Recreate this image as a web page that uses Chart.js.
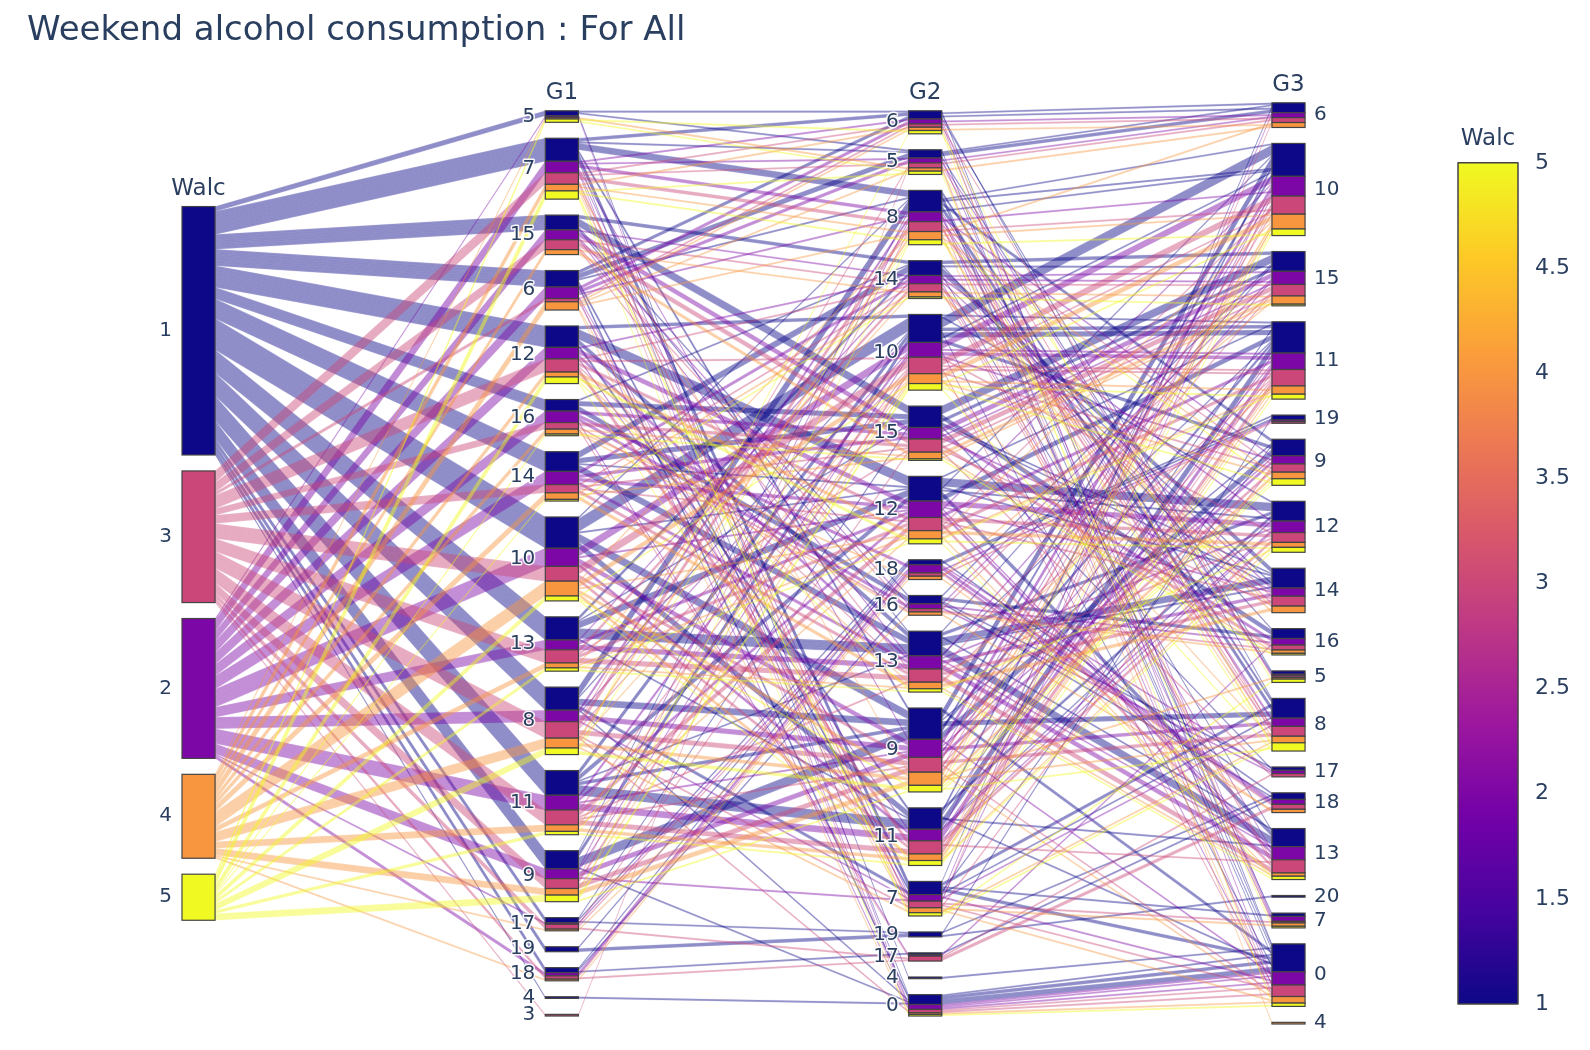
<!DOCTYPE html>
<html>
<head>
<meta charset="utf-8">
<title>Weekend alcohol consumption : For All</title>
<script src="https://cdn.jsdelivr.net/npm/chart.js@4.4.1/dist/chart.umd.min.js"></script>
<style>
  html, body { margin: 0; padding: 0; background: #fff; }
  canvas { display: block; }
</style>
</head>
<body>
<canvas id="parcatsChart" width="1590" height="1050"></canvas>
<script>
// dimensions left to right, categories in the order they are stacked
const dimNames = ['Walc', 'G1', 'G2', 'G3'];
const walcCats = [1, 3, 2, 4, 5];
const g1Cats = [5, 7, 15, 6, 12, 16, 14, 10, 13, 8, 11, 9, 17, 19, 18, 4, 3];
const g2Cats = [6, 5, 8, 14, 10, 15, 12, 18, 16, 13, 9, 11, 7, 19, 17, 4, 0];
const g3Cats = [6, 10, 15, 11, 19, 9, 12, 14, 16, 5, 8, 17, 18, 13, 20, 7, 0, 4];
const cbTicks = [1, 1.5, 2, 2.5, 3, 3.5, 4, 4.5, 5];

// each row: G1, G2, G3, then number of students with Walc = 1, 2, 3, 4, 5
const gradePaths = [
    [4, 0, 0, 1, 0, 0, 0, 0],
    [5, 0, 0, 0, 1, 0, 0, 0],
    [6, 0, 0, 2, 1, 0, 1, 0],
    [7, 0, 0, 1, 1, 1, 0, 1],
    [8, 0, 0, 1, 0, 1, 0, 0],
    [9, 0, 0, 1, 0, 0, 0, 0],
    [5, 4, 0, 1, 0, 0, 0, 0],
    [3, 5, 0, 0, 0, 1, 0, 0],
    [5, 5, 0, 1, 0, 0, 0, 0],
    [5, 5, 4, 0, 0, 0, 1, 0],
    [5, 5, 5, 0, 0, 0, 0, 1],
    [6, 5, 5, 1, 1, 0, 0, 0],
    [6, 5, 6, 2, 1, 0, 1, 0],
    [7, 5, 6, 1, 0, 1, 0, 0],
    [7, 5, 7, 0, 1, 0, 0, 1],
    [8, 5, 8, 0, 0, 1, 0, 0],
    [5, 6, 0, 1, 0, 0, 0, 1],
    [6, 6, 0, 0, 1, 0, 0, 0],
    [6, 6, 5, 1, 0, 1, 0, 0],
    [6, 6, 6, 1, 1, 0, 1, 0],
    [7, 6, 6, 1, 0, 1, 0, 0],
    [7, 6, 7, 0, 1, 0, 1, 0],
    [7, 6, 8, 1, 0, 0, 0, 0],
    [8, 6, 8, 0, 0, 0, 0, 1],
    [6, 7, 0, 2, 1, 1, 1, 0],
    [7, 7, 5, 0, 0, 0, 0, 1],
    [7, 7, 6, 1, 1, 1, 0, 0],
    [7, 7, 7, 1, 0, 1, 1, 0],
    [7, 7, 8, 2, 0, 0, 0, 1],
    [8, 7, 8, 1, 1, 0, 1, 0],
    [8, 7, 9, 1, 0, 1, 0, 0],
    [9, 7, 10, 0, 1, 0, 0, 0],
    [6, 8, 0, 1, 1, 0, 1, 0],
    [7, 8, 0, 1, 0, 1, 0, 0],
    [7, 8, 6, 0, 0, 0, 1, 0],
    [7, 8, 7, 1, 1, 0, 0, 0],
    [7, 8, 8, 2, 1, 1, 0, 1],
    [8, 8, 8, 3, 1, 2, 1, 0],
    [8, 8, 9, 2, 1, 1, 1, 1],
    [8, 8, 10, 1, 0, 0, 0, 0],
    [9, 8, 10, 1, 1, 1, 0, 1],
    [10, 8, 10, 1, 0, 0, 1, 0],
    [7, 9, 0, 2, 1, 0, 1, 0],
    [8, 9, 0, 0, 0, 1, 0, 0],
    [8, 9, 5, 0, 0, 0, 1, 0],
    [8, 9, 8, 3, 2, 2, 1, 1],
    [8, 9, 9, 1, 1, 0, 0, 1],
    [9, 9, 9, 4, 2, 2, 2, 1],
    [9, 9, 10, 2, 1, 1, 1, 0],
    [10, 9, 10, 5, 3, 2, 2, 1],
    [11, 9, 11, 2, 1, 1, 0, 0],
    [8, 10, 0, 1, 1, 1, 0, 0],
    [8, 10, 8, 0, 0, 0, 1, 0],
    [9, 10, 8, 0, 0, 0, 0, 1],
    [9, 10, 9, 2, 1, 1, 1, 1],
    [9, 10, 10, 1, 0, 1, 0, 0],
    [10, 10, 10, 6, 4, 4, 3, 1],
    [10, 10, 11, 2, 1, 1, 0, 0],
    [11, 10, 11, 3, 2, 1, 1, 1],
    [12, 10, 11, 1, 0, 0, 0, 0],
    [12, 10, 12, 1, 0, 1, 0, 0],
    [10, 11, 0, 1, 0, 0, 0, 0],
    [10, 11, 10, 2, 1, 1, 1, 1],
    [10, 11, 11, 1, 1, 1, 1, 0],
    [11, 11, 11, 5, 3, 3, 1, 1],
    [11, 11, 12, 1, 1, 0, 1, 0],
    [12, 11, 12, 2, 1, 2, 0, 1],
    [12, 11, 13, 0, 0, 1, 0, 0],
    [13, 11, 13, 1, 0, 0, 0, 0],
    [10, 12, 10, 1, 1, 0, 1, 0],
    [11, 12, 10, 0, 0, 1, 0, 0],
    [11, 12, 11, 3, 2, 2, 1, 0],
    [12, 12, 11, 1, 0, 0, 0, 1],
    [12, 12, 12, 5, 3, 2, 2, 1],
    [13, 12, 12, 1, 0, 0, 0, 0],
    [13, 12, 13, 3, 2, 2, 1, 1],
    [14, 12, 13, 0, 1, 0, 0, 0],
    [14, 12, 14, 1, 1, 1, 0, 0],
    [11, 13, 11, 1, 0, 1, 0, 0],
    [12, 13, 11, 0, 0, 0, 1, 0],
    [12, 13, 12, 2, 1, 1, 0, 1],
    [12, 13, 13, 1, 1, 0, 0, 0],
    [13, 13, 13, 5, 3, 3, 1, 1],
    [13, 13, 14, 1, 0, 0, 0, 0],
    [14, 13, 14, 4, 2, 2, 2, 0],
    [15, 13, 15, 1, 1, 1, 0, 0],
    [12, 14, 12, 0, 1, 0, 0, 0],
    [12, 14, 13, 0, 0, 1, 0, 0],
    [13, 14, 13, 1, 1, 1, 0, 0],
    [13, 14, 14, 1, 0, 1, 1, 0],
    [14, 14, 14, 3, 1, 1, 1, 0],
    [14, 14, 15, 1, 1, 0, 0, 1],
    [15, 14, 15, 2, 1, 1, 1, 0],
    [16, 14, 16, 1, 0, 0, 0, 0],
    [13, 15, 14, 1, 0, 1, 0, 0],
    [14, 15, 14, 1, 1, 0, 0, 0],
    [14, 15, 15, 2, 1, 1, 1, 0],
    [15, 15, 15, 5, 3, 3, 2, 0],
    [16, 15, 16, 3, 2, 2, 1, 1],
    [17, 15, 17, 1, 0, 1, 0, 0],
    [15, 16, 15, 1, 1, 1, 0, 0],
    [16, 16, 16, 2, 1, 1, 1, 0],
    [16, 16, 17, 1, 1, 0, 0, 0],
    [17, 16, 18, 0, 0, 0, 1, 0],
    [18, 16, 18, 1, 0, 0, 0, 0],
    [16, 17, 16, 0, 1, 0, 0, 0],
    [16, 17, 17, 0, 0, 1, 0, 0],
    [17, 17, 18, 0, 0, 1, 0, 0],
    [18, 17, 18, 1, 0, 1, 0, 0],
    [16, 18, 15, 0, 0, 0, 1, 0],
    [16, 18, 17, 0, 1, 0, 0, 0],
    [16, 18, 18, 0, 1, 0, 0, 0],
    [17, 18, 18, 1, 1, 1, 0, 0],
    [18, 18, 18, 0, 1, 0, 1, 0],
    [18, 18, 19, 1, 1, 1, 0, 0],
    [19, 18, 19, 1, 0, 0, 0, 0],
    [17, 19, 18, 1, 0, 0, 0, 0],
    [19, 19, 19, 1, 0, 0, 0, 0],
    [19, 19, 20, 1, 0, 0, 0, 0]
];

// plotly "Plasma"
const PLASMA = ['#0d0887', '#46039f', '#7201a8', '#9c179e', '#bd3786',
                '#d8576b', '#ed7953', '#fb9f3a', '#fdca26', '#f0f921'];
const FONT = '"DejaVu Sans", Verdana, sans-serif';
const TEXT = '#2a3f5f';
const CAT_GAP = 9.7;   // space between categories, in students
const BAR_W = 0.091;   // bar width, in x units

function hexToRgb(h) {
    const n = parseInt(h.slice(1), 16);
    return [(n >> 16) & 255, (n >> 8) & 255, n & 255];
}

function plasma(t) {
    const s = t * (PLASMA.length - 1);
    const i = Math.min(Math.floor(s), PLASMA.length - 2);
    const f = s - i;
    const a = hexToRgb(PLASMA[i]), b = hexToRgb(PLASMA[i + 1]);
    return a.map((v, k) => Math.round(v + (b[k] - v) * f));
}

function walcColor(w, alpha) {
    const c = plasma((w - 1) / 4);
    return 'rgba(' + c[0] + ',' + c[1] + ',' + c[2] + ',' + alpha + ')';
}

function comparePaths(a, b) {
    if (a.walc !== b.walc) return a.walc - b.walc;
    for (let d = 0; d < a.idx.length; d++) {
        if (a.idx[d] !== b.idx[d]) return a.idx[d] - b.idx[d];
    }
    return 0;
}

const dimCats = [walcCats, g1Cats, g2Cats, g3Cats];
const maxCats = Math.max(...dimCats.map(c => c.length));
const total = gradePaths.reduce((s, r) => s + r.slice(3).reduce((a, b) => a + b, 0), 0);
const yMax = total + CAT_GAP * (maxCats - 1);

// one path per (Walc, G1, G2, G3) combination
const paths = [];
gradePaths.forEach(r => {
    for (let k = 0; k < 5; k++) {
        if (r[3 + k] > 0) {
            const vals = [k + 1, r[0], r[1], r[2]];
            paths.push({
                walc: k + 1,
                idx: vals.map((v, d) => dimCats[d].indexOf(v)),
                n: r[3 + k],
                y: []
            });
        }
    }
});

// category boxes, and where each path crosses them
const catBoxes = dimCats.map((cats, d) => {
    let y = (maxCats - cats.length) * CAT_GAP / 2;
    return cats.map((c, i) => {
        const members = paths.filter(p => p.idx[d] === i).sort(comparePaths);
        const top = y;
        members.forEach(p => { p.y[d] = y; y += p.n; });
        const box = { label: String(c), top: top, bottom: y, members: members };
        y += CAT_GAP;
        return box;
    });
});

function haloText(ctx, text, x, y) {
    ctx.lineWidth = 3;
    ctx.lineJoin = 'round';
    ctx.strokeStyle = 'rgba(255,255,255,0.9)';
    ctx.strokeText(text, x, y);
    ctx.fillText(text, x, y);
}

const parcatsPlugin = {
    id: 'parcats',
    afterDraw(chart) {
        const { ctx, chartArea, scales: { x, y, cb } } = chart;
        ctx.save();

        // ribbons, one strip per student
        const order = paths.slice().sort((a, b) => a.walc - b.walc);
        order.forEach(p => {
            ctx.fillStyle = walcColor(p.walc, 0.42);
            ctx.strokeStyle = walcColor(p.walc, 0.16);
            ctx.lineWidth = 0.5;
            for (let d = 0; d < dimNames.length - 1; d++) {
                const x0 = x.getPixelForValue(d + BAR_W);
                const x1 = x.getPixelForValue(d + 1);
                for (let k = 0; k < p.n; k++) {
                    ctx.beginPath();
                    ctx.moveTo(x0, y.getPixelForValue(p.y[d] + k));
                    ctx.lineTo(x1, y.getPixelForValue(p.y[d + 1] + k));
                    ctx.lineTo(x1, y.getPixelForValue(p.y[d + 1] + k + 1));
                    ctx.lineTo(x0, y.getPixelForValue(p.y[d] + k + 1));
                    ctx.closePath();
                    ctx.fill();
                    ctx.stroke();
                }
            }
        });

        // category bars with colour bands
        catBoxes.forEach((boxes, d) => {
            const xl = x.getPixelForValue(d);
            const xr = x.getPixelForValue(d + BAR_W);
            boxes.forEach(box => {
                const bands = [];
                box.members.forEach(p => {
                    const last = bands[bands.length - 1];
                    if (last && last.walc === p.walc) last.n += p.n;
                    else bands.push({ walc: p.walc, start: p.y[d], n: p.n });
                });
                ctx.lineWidth = 1.2;
                ctx.strokeStyle = '#444';
                bands.forEach(b => {
                    const t = y.getPixelForValue(b.start);
                    const h = y.getPixelForValue(b.start + b.n) - t;
                    ctx.fillStyle = walcColor(b.walc, 1);
                    ctx.fillRect(xl, t, xr - xl, h);
                    ctx.strokeRect(xl, t, xr - xl, h);
                });
            });
        });

        // category labels and dimension titles
        ctx.fillStyle = TEXT;
        catBoxes.forEach((boxes, d) => {
            const last = d === dimNames.length - 1;
            const xl = x.getPixelForValue(d);
            const xr = x.getPixelForValue(d + BAR_W);
            ctx.font = '20px ' + FONT;
            ctx.textBaseline = 'middle';
            ctx.textAlign = last ? 'left' : 'right';
            boxes.forEach(box => {
                const yc = y.getPixelForValue((box.top + box.bottom) / 2);
                haloText(ctx, box.label, last ? xr + 9 : xl - 10, yc);
            });
            ctx.font = '23px ' + FONT;
            ctx.textAlign = 'center';
            haloText(ctx, dimNames[d], (xl + xr) / 2, y.getPixelForValue(boxes[0].top) - 18);
        });

        // colour bar
        const cTop = cb.getPixelForValue(5);
        const cBot = cb.getPixelForValue(1);
        const cR = chartArea.right;
        const cL = cR - 60;
        const grad = ctx.createLinearGradient(0, cBot, 0, cTop);
        PLASMA.forEach((c, i) => grad.addColorStop(i / (PLASMA.length - 1), c));
        ctx.fillStyle = grad;
        ctx.fillRect(cL, cTop, cR - cL, cBot - cTop);
        ctx.lineWidth = 1.5;
        ctx.strokeStyle = '#444';
        ctx.strokeRect(cL, cTop, cR - cL, cBot - cTop);
        ctx.fillStyle = TEXT;
        ctx.font = '23px ' + FONT;
        ctx.textAlign = 'center';
        ctx.textBaseline = 'middle';
        ctx.fillText('Walc', (cL + cR) / 2, cTop - 24);

        ctx.restore();
    }
};

const ctxParcats = document.getElementById('parcatsChart').getContext('2d');
const parcatsChart = new Chart(ctxParcats, {
    type: 'scatter',
    data: { datasets: [] },
    options: {
        responsive: false,
        animation: false,
        devicePixelRatio: 1,
        layout: { padding: { left: 27, right: 0, top: 0, bottom: 26 } },
        plugins: {
            legend: { display: false },
            tooltip: { enabled: false },
            title: {
                display: true,
                text: 'Weekend alcohol consumption : For All',
                align: 'start',
                color: TEXT,
                font: { family: FONT, size: 34, weight: 'normal' },
                padding: { top: 11, bottom: 51 }
            }
        },
        scales: {
            x: { type: 'linear', min: -0.4266, max: 3.6771, display: false },
            y: { type: 'linear', min: 0, max: yMax, reverse: true, display: false },
            cb: {
                type: 'linear',
                position: 'right',
                min: 0.9049,
                max: 5.2854,
                grid: { display: false },
                border: { display: false },
                afterBuildTicks: s => { s.ticks = cbTicks.map(v => ({ value: v })); },
                afterFit: s => { s.width = 72; },
                ticks: {
                    color: TEXT,
                    padding: 9,
                    font: { family: FONT, size: 22 },
                    callback: v => String(v)
                }
            }
        }
    },
    plugins: [parcatsPlugin]
});
</script>
</body>
</html>
